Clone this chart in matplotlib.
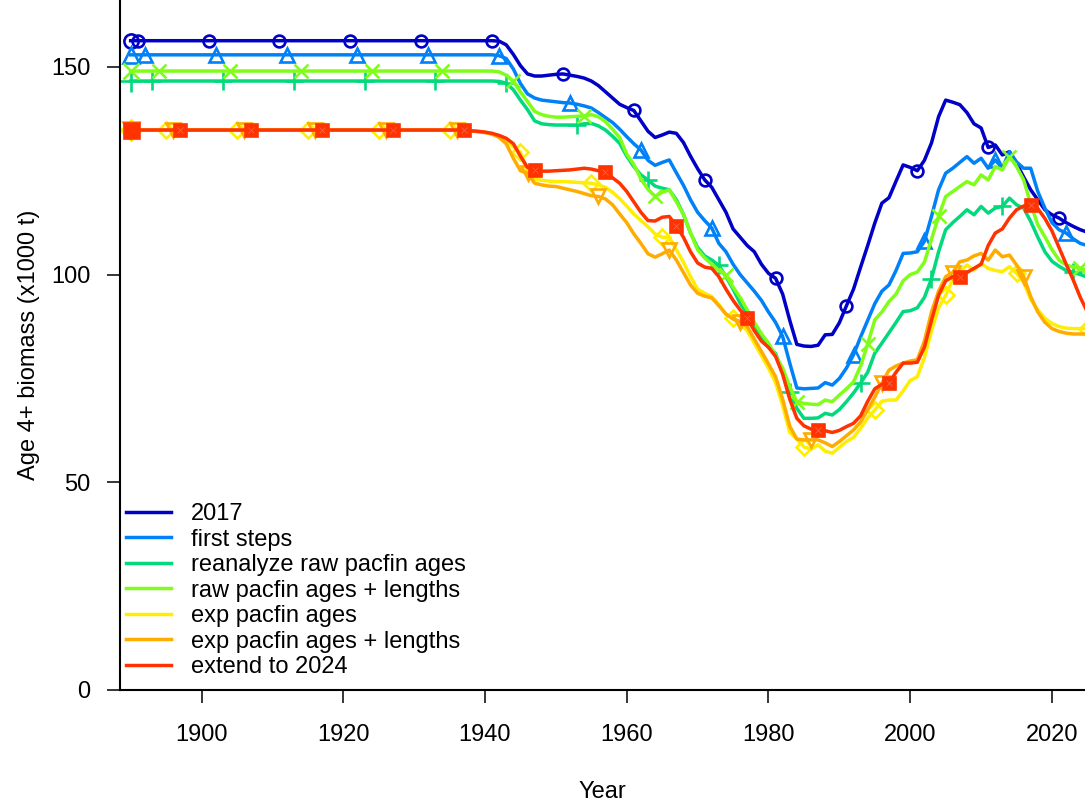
import numpy as np
import matplotlib
matplotlib.use("Agg")
import matplotlib.pyplot as plt

plt.rcParams['font.family'] = ['Liberation Sans', 'DejaVu Sans']

# 年份 1890-2025
years = list(range(1890, 2026))

labels = ["2017", "first steps", "reanalyze raw pacfin ages",
          "raw pacfin ages + lengths", "exp pacfin ages",
          "exp pacfin ages + lengths", "extend to 2024"]

# Age 4+ biomass (x1000 t); 1890-1935 flat, then yearly values 1936-2025
b_2017 = [156.3] * 46 + [
    156.3, 156.3, 156.3, 156.3,
    156.3, 156.3, 156.2, 155.3, 153.0, 150.3, 148.3, 147.8, 147.8, 148.0,
    148.2, 148.3, 148.0, 147.7, 147.3, 146.6, 145.5, 144.0, 142.5, 141.0,
    140.2, 139.5, 137.0, 134.5, 133.0, 133.6, 134.3, 134.0, 131.8, 128.5,
    125.5, 122.8, 121.0, 118.0, 115.0, 111.0, 109.0, 107.0, 105.5, 102.5,
    100.3, 99.1, 95.3, 89.0, 83.2, 82.8, 82.7, 83.0, 85.5, 85.6,
    88.4, 92.5, 96.5, 101.8, 107.0, 112.4, 117.2, 118.5, 122.5, 126.4,
    125.8, 125.0, 127.5, 131.7, 138.0, 142.0, 141.5, 140.9, 139.0, 136.3,
    135.3, 130.6, 131.2, 128.8, 129.6, 126.8, 123.5, 120.4, 118.0, 115.6,
    114.4, 113.6, 112.5, 111.6, 110.8, 110.2]

b_first = [152.9] * 46 + [
    152.9, 152.9, 152.9, 152.9,
    152.9, 152.9, 152.7, 152.0, 149.5, 146.0, 143.5, 142.5, 142.0, 141.8,
    141.6, 141.4, 141.3, 141.0, 140.6, 140.1, 139.0, 137.8, 136.6, 135.0,
    133.2, 131.5, 130.0, 127.5, 126.3, 127.0, 127.6, 124.5, 121.5, 118.0,
    115.0, 113.0, 111.2, 107.5, 105.5, 102.5, 100.0, 98.0, 96.0, 93.8,
    91.0, 88.5, 85.1, 78.7, 72.7, 72.5, 72.6, 72.7, 74.0, 73.4,
    75.0, 77.5, 80.7, 85.0, 89.0, 93.0, 96.0, 97.5, 101.0, 105.1,
    105.2, 105.5, 108.0, 114.0, 120.4, 124.4, 125.6, 127.0, 128.4, 126.8,
    128.0, 125.6, 127.6, 125.6, 129.6, 127.1, 125.6, 125.6, 120.0, 116.0,
    112.5, 110.8, 110.0, 108.6, 107.5, 107.0]

b_reanalyze = [146.6] * 46 + [
    146.6, 146.6, 146.6, 146.6,
    146.6, 146.6, 146.5, 146.1, 144.5, 142.0, 139.7, 137.0, 136.3, 136.1,
    136.0, 136.0, 136.0, 136.0, 136.3, 136.4, 135.8, 134.8, 133.3, 131.6,
    128.5, 126.0, 124.0, 122.8, 121.3, 120.8, 120.4, 118.0, 114.5, 110.0,
    106.5, 104.5, 103.5, 102.2, 99.5, 96.5, 93.1, 90.5, 88.0, 84.8,
    82.5, 81.0, 76.5, 71.8, 67.8, 65.4, 65.4, 65.5, 66.6, 66.2,
    67.5, 69.4, 71.5, 73.9, 76.5, 81.1, 83.5, 86.0, 88.5, 91.1,
    91.3, 92.0, 94.5, 99.0, 105.5, 110.8, 112.5, 114.0, 115.6, 114.4,
    116.4, 114.8, 116.0, 116.4, 118.4, 116.8, 116.0, 112.8, 109.0, 105.5,
    103.2, 102.0, 101.0, 100.6, 100.0, 99.4]

b_raw_len = [149.0] * 46 + [
    149.0, 149.0, 149.0, 149.0,
    149.0, 149.0, 148.8, 148.0, 146.5, 144.0, 141.7, 139.3, 138.5, 138.1,
    137.9, 137.9, 138.0, 138.1, 138.2, 138.5, 138.0, 136.8, 135.0, 133.0,
    129.0, 126.5, 123.0, 120.5, 118.8, 119.8, 120.4, 117.5, 114.5, 110.0,
    106.0, 104.0, 102.5, 101.0, 99.9, 97.0, 94.5, 91.5, 88.5, 85.8,
    83.5, 80.5, 77.5, 73.0, 69.4, 69.0, 68.8, 68.7, 69.8, 69.4,
    71.0, 72.5, 74.2, 78.0, 83.3, 89.1, 91.0, 93.5, 95.3, 98.5,
    100.0, 100.6, 103.0, 108.5, 114.0, 118.8, 120.0, 121.2, 122.4, 121.6,
    124.0, 122.8, 126.0, 125.2, 128.4, 126.0, 122.8, 117.0, 112.0, 109.1,
    106.0, 103.5, 102.3, 101.8, 101.5, 101.0]

b_exp = [134.8] * 46 + [
    134.8, 134.7, 134.6, 134.4,
    134.2, 133.9, 133.3, 132.0, 130.8, 129.4, 124.5, 123.0, 122.7, 122.5,
    122.4, 122.4, 122.3, 122.2, 122.1, 122.0, 121.6, 121.0, 119.8, 118.3,
    116.5, 114.6, 113.0, 111.5, 109.8, 109.0, 109.0, 106.0, 103.0, 99.5,
    96.5, 95.5, 94.7, 92.8, 90.5, 89.5, 88.0, 86.5, 83.5, 80.5,
    77.5, 74.0, 68.5, 62.0, 60.5, 58.5, 58.0, 59.0, 57.5, 57.0,
    58.4, 59.8, 60.8, 63.0, 65.5, 67.4, 69.5, 69.8, 69.8, 72.0,
    74.5, 75.4, 80.0, 86.5, 92.0, 95.0, 98.8, 100.8, 102.3, 101.1,
    102.7, 101.5, 101.0, 100.7, 101.9, 100.3, 98.2, 94.0, 91.5, 89.5,
    88.2, 87.5, 87.1, 87.0, 87.0, 87.0]

b_exp_len = [134.8] * 46 + [
    134.8, 134.7, 134.6, 134.4,
    134.2, 133.8, 133.0, 131.5, 128.0, 125.0, 124.4, 122.0, 121.6, 121.3,
    121.2, 120.8, 120.4, 120.0, 119.5, 119.0, 118.8, 118.2, 116.8, 114.6,
    112.5, 109.8, 107.5, 105.0, 104.2, 105.0, 105.9, 103.5, 100.5, 97.5,
    95.5, 94.8, 94.4, 92.5, 90.5, 89.3, 88.7, 87.5, 84.5, 81.5,
    78.5, 75.4, 70.0, 63.5, 60.4, 60.2, 60.2, 60.2, 59.5, 58.6,
    59.8, 61.2, 62.6, 64.5, 67.5, 70.5, 73.9, 77.0, 78.0, 78.7,
    79.2, 79.5, 84.0, 91.0, 96.0, 99.5, 100.5, 103.1, 103.5, 104.5,
    105.1, 103.5, 105.9, 104.3, 104.7, 102.3, 99.5, 94.7, 91.0, 88.5,
    87.0, 86.3, 85.9, 85.7, 85.7, 85.7]

b_extend = [134.8] * 46 + [
    134.8, 134.7, 134.6, 134.5,
    134.3, 134.0, 133.5, 132.8, 131.5, 128.5, 125.8, 125.2, 124.9, 124.9,
    125.0, 125.1, 125.2, 125.4, 125.6, 125.4, 125.0, 124.6, 123.3, 122.0,
    120.0, 117.5, 115.0, 113.0, 112.9, 113.8, 114.0, 111.7, 109.0, 105.5,
    102.8, 101.8, 101.5, 99.5, 96.5, 93.8, 91.5, 89.5, 86.5, 84.0,
    82.5, 80.3, 76.0, 70.0, 65.4, 63.6, 62.8, 62.6, 62.4, 62.0,
    62.5, 63.4, 64.2, 66.0, 69.5, 72.5, 73.6, 74.0, 76.5, 78.7,
    78.7, 78.9, 82.5, 89.0, 95.0, 98.5, 99.5, 99.4, 100.5, 101.5,
    102.5, 107.0, 110.0, 111.0, 113.6, 115.6, 116.5, 116.8, 115.9, 113.5,
    110.5, 106.5, 102.5, 98.7, 94.5, 91.0]

series = [b_2017, b_first, b_reanalyze, b_raw_len, b_exp, b_exp_len, b_extend]

colors = ['#0000C6', '#0081F8', '#02D97D', '#80FE1A', '#FDEE02', '#FFAB00', '#FF3300']
markers = ['o', '^', '+', 'x', 'D', 'v', 's']
msizes = [8.5, 9.5, 13, 10, 8.5, 9.5, 9]

fig = plt.figure(figsize=(10.85, 8.02), dpi=100)
ax = fig.add_axes([120 / 1085, 1 - 690 / 802, 965 / 1085, 690 / 802])

for i, (vals, col, mk, ms) in enumerate(zip(series, colors, markers, msizes)):
    filled = (mk == 's')
    ax.plot(years, vals, color=col, lw=2.5, label=labels[i])
    # 每10年一个标记, 各模型错开一年
    idx = list(range(i + 1, len(years), 10))
    ax.plot([years[k] for k in idx], [vals[k] for k in idx], ls='none',
            marker=mk, ms=ms, mew=1.9, color=col,
            mfc=col if filled else 'none')
    # 起始点 (稍大)
    ax.plot(years[0], vals[0], ls='none', marker=mk, ms=ms * 1.2, mew=1.9,
            color=col, mfc=col if filled else 'none')
    if filled:
        ax.plot([years[k] for k in idx], [vals[k] for k in idx], ls='none',
                marker='x', ms=ms * 0.5, mew=0.5, color='#FF6A4A')

ax.set_xlim(1888.5, 2024.66)
ax.set_ylim(0, 166.1)
ax.set_xticks([1900, 1920, 1940, 1960, 1980, 2000, 2020])
ax.set_yticks([0, 50, 100, 150])
for s in ['top', 'right']:
    ax.spines[s].set_visible(False)
for s in ['left', 'bottom']:
    ax.spines[s].set_linewidth(1.5)
ax.tick_params(axis='x', length=9.5, width=1.1, pad=15, labelsize=17)
ax.tick_params(axis='y', length=9.5, width=1.1, pad=12, labelsize=17)
ax.set_xlabel('Year', fontsize=17, labelpad=25)
ax.set_ylabel('Age 4+ biomass (x1000 t)', fontsize=17, labelpad=8)

ax.legend(loc='upper left', bbox_to_anchor=(126 / 1085, 1 - 503 / 802),
          bbox_transform=fig.transFigure, frameon=False, fontsize=17,
          handlelength=1.9, handletextpad=0.85, labelspacing=0.15,
          borderpad=0, borderaxespad=0)

fig.savefig('out.png', dpi=100)
